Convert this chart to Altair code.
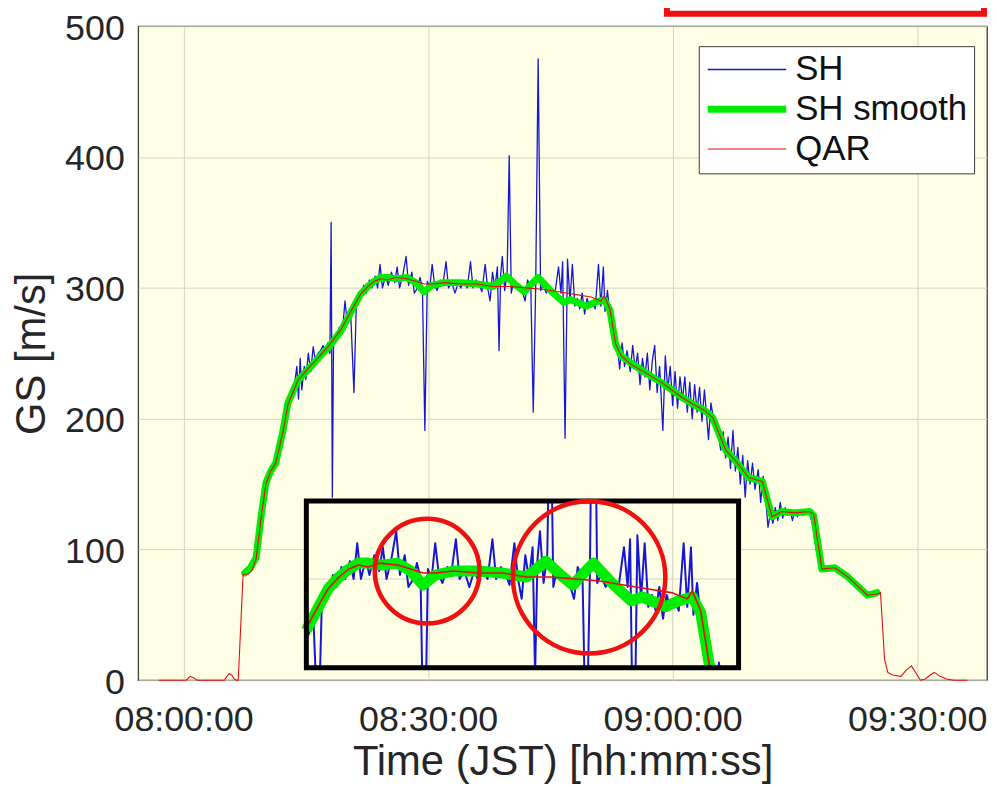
import altair as alt
import pandas as pd

# ---------------- data (minutes after 08:00:00 JST, ground speed m/s) ----------------
SERIES = ["SH", "SH smooth", "QAR"]
SERIES_COLORS = ["#1616d4", "#00ec00", "#e01010"]
SERIES_WIDTHS = [1.3, 7.0, 1.1]
INSET_WIDTHS = [2.0, 11.0, 1.6]

SH = [(7.6, 84), (8.2, 88), (8.9, 95), (9.3, 110), (9.6, 127), (10.1, 150), (10.6, 160), (11.3, 167),
      (11.8, 178), (12.2, 191), (12.8, 212), (13.2, 220), (13.6, 226), (13.9, 240), (14.1, 215),
      (14.3, 246), (14.5, 222), (14.8, 240), (15.0, 230), (15.3, 250), (15.6, 236), (15.9, 255),
      (16.2, 243), (16.5, 250), (16.8, 252), (17.1, 256), (17.4, 252), (17.7, 258), (17.95, 250),
      (18.1, 350), (18.25, 140), (18.4, 262), (18.8, 262), (19.1, 270), (19.5, 268), (19.8, 290),
      (20.1, 272), (20.5, 280), (20.9, 220), (21.2, 290), (21.5, 296), (21.8, 294), (22.1, 302),
      (22.4, 296), (22.8, 306), (23.1, 300), (23.5, 309), (23.8, 300), (24.1, 318), (24.4, 300),
      (24.8, 310), (25.1, 302), (25.5, 312), (25.9, 304), (26.2, 316), (26.5, 300), (26.9, 310),
      (27.3, 324), (27.6, 302), (28.0, 312), (28.3, 296), (28.7, 300), (29.0, 308), (29.3, 300),
      (29.6, 191), (29.9, 305), (30.2, 300), (30.5, 318), (30.8, 302), (31.1, 298), (31.5, 306),
      (31.8, 302), (32.2, 320), (32.5, 300), (32.9, 304), (33.3, 296), (33.7, 304), (34.0, 300),
      (34.4, 305), (34.8, 300), (35.2, 320), (35.5, 300), (35.9, 306), (36.3, 302), (36.6, 297),
      (37.0, 318), (37.3, 300), (37.6, 290), (37.9, 312), (38.2, 300), (38.5, 316), (38.7, 252),
      (38.9, 310), (39.1, 324), (39.4, 298), (39.7, 312), (39.95, 401), (40.2, 296), (40.5, 305),
      (40.8, 300), (41.1, 302), (41.5, 298), (41.9, 290), (42.2, 306), (42.6, 300), (42.9, 205),
      (43.2, 302), (43.5, 475), (43.8, 298), (44.1, 302), (44.5, 296), (44.8, 300), (45.2, 295),
      (45.6, 298), (46.0, 316), (46.3, 296), (46.5, 320), (46.8, 185), (47.1, 322), (47.4, 290),
      (47.7, 318), (48.0, 286), (48.3, 292), (48.6, 284), (48.9, 296), (49.2, 280), (49.5, 292),
      (49.8, 286), (50.1, 290), (50.5, 284), (50.9, 318), (51.2, 286), (51.5, 316), (51.7, 282),
      (52.0, 298), (52.3, 280), (52.7, 268), (53.0, 260), (53.3, 250), (53.5, 238), (53.8, 258),
      (54.1, 240), (54.4, 252), (54.8, 236), (55.1, 256), (55.4, 238), (55.7, 250), (56.0, 226),
      (56.3, 246), (56.6, 232), (56.9, 250), (57.2, 222), (57.5, 244), (57.8, 256), (58.1, 220),
      (58.4, 240), (58.8, 191), (59.1, 248), (59.4, 222), (59.7, 240), (60.0, 210), (60.3, 236),
      (60.6, 208), (60.9, 232), (61.2, 214), (61.5, 232), (61.8, 205), (62.1, 228), (62.4, 200),
      (62.7, 226), (63.0, 205), (63.3, 224), (63.6, 198), (63.9, 222), (64.2, 200), (64.4, 184),
      (64.7, 212), (65.0, 200), (65.3, 192), (65.6, 188), (65.9, 176), (66.2, 190), (66.5, 170),
      (66.8, 186), (67.1, 162), (67.4, 191), (67.7, 160), (68.0, 178), (68.3, 150), (68.6, 172),
      (68.9, 140), (69.2, 168), (69.5, 150), (69.8, 166), (70.1, 146), (70.5, 161), (70.8, 136),
      (71.1, 156), (71.4, 140), (71.7, 117), (72.0, 128), (72.3, 120), (72.6, 132), (72.9, 122),
      (73.2, 136), (73.5, 124), (73.8, 132), (74.1, 126), (74.4, 130), (74.7, 122), (75.0, 130),
      (75.3, 125), (75.6, 130), (76.0, 126), (76.4, 130), (76.8, 128), (77.2, 118), (77.6, 100),
      (78.0, 90), (78.3, 84), (78.7, 86), (79.2, 85), (79.9, 86), (80.5, 84), (81.0, 82), (81.5, 79),
      (82.2, 75), (83.0, 70), (83.9, 65), (84.5, 66), (85.1, 67)]

SH_SMOOTH = [(7.5, 82), (8.2, 86), (8.9, 94), (9.5, 125), (10.1, 151), (10.7, 160), (11.3, 166),
             (12.2, 191), (12.8, 212), (14.0, 229), (15.5, 239), (16.6, 247), (17.7, 254), (19.3, 267),
             (20.5, 281), (21.7, 295), (22.6, 301), (23.4, 305), (24.2, 308), (25.0, 308), (26.2, 307),
             (27.4, 308), (28.5, 304), (29.5, 297), (30.5, 302), (32.0, 304), (34.0, 304), (36.0, 303),
             (38.0, 301), (39.6, 309), (40.8, 302), (41.8, 297), (42.7, 303), (43.5, 308), (45.0, 298),
             (46.6, 289), (47.5, 291), (49.4, 286), (50.5, 289), (51.6, 291), (52.3, 283), (53.0, 257),
             (53.7, 248), (55.0, 242), (56.7, 235), (58.8, 227), (61.2, 216), (62.5, 211), (64.0, 206),
             (64.9, 201), (66.5, 176), (67.7, 168), (69.3, 155), (71.0, 152), (72.2, 125), (73.4, 129),
             (75.0, 128), (76.8, 129), (77.3, 126), (78.3, 85), (79.9, 86), (81.5, 79), (83.9, 65),
             (85.1, 67)]

QAR = [(-3.0, 0), (0.3, 0), (0.8, 3), (1.2, 2), (1.7, 0), (2.2, 0), (5.0, 0), (5.3, 3), (5.6, 5),
       (5.9, 4), (6.2, 1), (6.5, 0), (6.7, 0), (7.3, 81), (7.9, 81), (8.4, 84), (8.9, 93), (9.5, 124),
       (10.1, 150), (10.7, 160), (11.3, 166), (12.2, 190), (12.8, 211), (14.0, 229), (15.5, 240),
       (16.6, 247), (17.7, 255), (19.3, 268), (20.5, 282), (21.7, 295), (22.6, 301), (23.4, 305),
       (24.2, 307), (25.0, 306), (26.0, 308), (27.4, 307), (28.5, 305), (29.5, 303), (30.5, 303),
       (32.0, 304), (34.0, 303), (36.0, 303), (38.0, 301), (40.0, 301), (42.0, 300), (44.0, 299),
       (46.0, 297), (48.0, 295), (50.0, 293), (51.2, 290), (51.6, 294), (52.3, 284), (53.0, 257),
       (53.7, 248), (55.0, 241), (56.7, 235), (58.8, 227), (61.2, 216), (62.5, 211), (64.0, 206),
       (64.9, 201), (66.5, 176), (67.7, 168), (69.3, 155), (71.0, 152), (72.2, 125), (73.4, 129),
       (75.0, 128), (76.8, 129), (77.3, 127), (78.3, 85), (79.9, 86), (81.5, 79), (83.9, 65),
       (85.1, 66), (85.5, 67), (86.0, 16), (86.4, 6), (87.0, 4), (88.0, 3), (88.7, 8), (89.3, 11),
       (89.9, 5), (90.4, 0), (91.0, 1), (91.6, 4), (92.1, 6), (92.8, 3), (93.6, 1), (94.5, 0), (96.1, 0)]

X_DOMAIN = [-5.57, 98.57]
Y_DOMAIN = [0, 500]
X_TICKS = [0, 30, 60, 90]
X_TICK_LABELS = ["08:00:00", "08:30:00", "09:00:00", "09:30:00"]
Y_TICKS = [0, 100, 200, 300, 400, 500]

# inset (zoom of the cruise phase) : source window -> placement inside the main axes
INSET_SRC_T = [19.92, 55.41]
INSET_SRC_V = [255.4, 339.2]
INSET_DST_T = [15.06, 68.09]
INSET_DST_V = [9.65, 137.0]
INSET_GRID_T = [30, 50]
INSET_GRID_V = [300]
CIRCLES = [(29.84, 304.0), (43.14, 300.85)]
CIRCLE_SIZES = [11100, 23500]
TOP_BOX_T = [59.3, 98.2]
TOP_BOX_V = [509.5, 545.0]

FONT = "Liberation Sans"
BG = "#FFFFE5"
GRID = "#d5d5c3"


def map_t(t):
    return INSET_DST_T[0] + (t - INSET_SRC_T[0]) * (INSET_DST_T[1] - INSET_DST_T[0]) / (INSET_SRC_T[1] - INSET_SRC_T[0])


def map_v(v):
    return INSET_DST_V[0] + (v - INSET_SRC_V[0]) * (INSET_DST_V[1] - INSET_DST_V[0]) / (INSET_SRC_V[1] - INSET_SRC_V[0])


def clip_segment(a, b):
    """Liang-Barsky clipping of segment a-b to the inset source window."""
    (x0, y0), (x1, y1) = a, b
    xmin, xmax = INSET_SRC_T
    ymin, ymax = INSET_SRC_V
    u0, u1 = 0.0, 1.0
    dx, dy = x1 - x0, y1 - y0
    for p, q in ((-dx, x0 - xmin), (dx, xmax - x0), (-dy, y0 - ymin), (dy, ymax - y0)):
        if p == 0:
            if q < 0:
                return None
        else:
            r = q / p
            if p < 0:
                if r > u1:
                    return None
                u0 = max(u0, r)
            else:
                if r < u0:
                    return None
                u1 = min(u1, r)
    return (x0 + u0 * dx, y0 + u0 * dy), (x0 + u1 * dx, y0 + u1 * dy)


def clip_polyline(points):
    runs, cur = [], []
    for a, b in zip(points, points[1:]):
        seg = clip_segment(a, b)
        if seg is None:
            if cur:
                runs.append(cur)
                cur = []
            continue
        s, e = seg
        if cur and (abs(cur[-1][0] - s[0]) > 1e-9 or abs(cur[-1][1] - s[1]) > 1e-9):
            runs.append(cur)
            cur = []
        if not cur:
            cur = [s]
        cur.append(e)
    if cur:
        runs.append(cur)
    return runs


def series_df(points, name):
    return pd.DataFrame({"t": [p[0] for p in points], "v": [p[1] for p in points], "series": name})


def inset_df(points):
    rows = []
    for k, run in enumerate(clip_polyline(points)):
        for i, (t, v) in enumerate(run):
            rows.append({"t": map_t(t), "v": map_v(v), "seg": k, "i": i})
    return pd.DataFrame(rows)


label_expr = " : ".join(
    f"datum.value == {v} ? '{lab}'" for v, lab in zip(X_TICKS, X_TICK_LABELS)
) + " : ''"

x_enc = alt.X(
    "t:Q",
    scale=alt.Scale(domain=X_DOMAIN, nice=False, zero=False),
    axis=alt.Axis(values=X_TICKS, labelExpr=label_expr, labelPadding=23,
                  titleBaseline="alphabetic", titleY=94.5),
    title="Time (JST) [hh:mm:ss]",
)
y_enc = alt.Y(
    "v:Q",
    scale=alt.Scale(domain=Y_DOMAIN, nice=False, zero=False),
    axis=alt.Axis(values=Y_TICKS, labelPadding=14, labelOffset=2, titleX=-107, titleY=329,
                  titleAngle=270, titleBaseline="middle", titleAlign="center"),
    title="GS [m/s]",
)

legend = alt.Legend(
    title=None, orient="none", legendX=564, legendY=20, direction="vertical",
    fillColor="white", strokeColor="#3a3a3a", padding=6,
    labelFontSize=35, labelFont=FONT, labelColor="#111111", labelLimit=400,
    symbolType="M-2.82,0H2.82", symbolSize=784, symbolOffset=25, labelOffset=31,
    rowPadding=4,
)
color_enc = alt.Color("series:N", scale=alt.Scale(domain=SERIES, range=SERIES_COLORS), legend=legend)
width_enc = alt.StrokeWidth("series:N", scale=alt.Scale(domain=SERIES, range=SERIES_WIDTHS, type="ordinal"),
                            legend=legend)

layers = []
for pts, name in [(SH, "SH"), (SH_SMOOTH, "SH smooth"), (QAR, "QAR")]:
    layers.append(
        alt.Chart(series_df(pts, name)).mark_line(strokeCap="round", strokeJoin="round")
        .encode(x=x_enc, y=y_enc, color=color_enc, strokeWidth=width_enc)
    )

# inset background
box_df = pd.DataFrame({"t": [INSET_DST_T[0]], "t2": [INSET_DST_T[1]], "v": [INSET_DST_V[0]], "v2": [INSET_DST_V[1]]})
layers.append(alt.Chart(box_df).mark_rect(fill=BG, strokeWidth=0).encode(x=x_enc, x2="t2:Q", y=y_enc, y2="v2:Q"))

# inset grid
gv_df = pd.DataFrame({"t": [map_t(g) for g in INSET_GRID_T], "v": INSET_DST_V[0], "v2": INSET_DST_V[1]})
layers.append(alt.Chart(gv_df).mark_rule(color=GRID, strokeWidth=1.2).encode(x=x_enc, y=y_enc, y2="v2:Q"))
gh_df = pd.DataFrame({"v": [map_v(g) for g in INSET_GRID_V], "t": INSET_DST_T[0], "t2": INSET_DST_T[1]})
layers.append(alt.Chart(gh_df).mark_rule(color=GRID, strokeWidth=1.2).encode(x=x_enc, x2="t2:Q", y=y_enc))

# inset lines (clipped to the zoom window)
for pts, col, w in zip([SH, SH_SMOOTH, QAR], SERIES_COLORS, INSET_WIDTHS):
    layers.append(
        alt.Chart(inset_df(pts)).mark_line(color=col, strokeWidth=w, strokeCap="butt", strokeJoin="round")
        .encode(x=x_enc, y=y_enc, detail="seg:N", order="i:Q")
    )

# inset border
layers.append(alt.Chart(box_df).mark_rect(fillOpacity=0, stroke="black", strokeWidth=5)
              .encode(x=x_enc, x2="t2:Q", y=y_enc, y2="v2:Q"))

# red circles
for (ct, cv), sz in zip(CIRCLES, CIRCLE_SIZES):
    cdf = pd.DataFrame({"t": [map_t(ct)], "v": [map_v(cv)]})
    layers.append(alt.Chart(cdf).mark_point(shape="circle", filled=False, size=sz, strokeWidth=4.6,
                                            color="#ee1111", opacity=1).encode(x=x_enc, y=y_enc))

# red frame at the top (partly outside)
top_df = pd.DataFrame({"t": [TOP_BOX_T[0]], "t2": [TOP_BOX_T[1]], "v": [TOP_BOX_V[0]], "v2": [TOP_BOX_V[1]]})
layers.append(alt.Chart(top_df).mark_rect(fillOpacity=0, stroke="#ee1111", strokeWidth=6, clip=False)
              .encode(x=x_enc, x2="t2:Q", y=y_enc, y2="v2:Q"))

chart = (
    alt.layer(*layers)
    .properties(width=854, height=658,
                autosize=alt.AutoSizeParams(type="none"),
                padding={"left": 131, "top": 16, "right": 2, "bottom": 104},
                background="white")
    .configure_view(fill=BG, stroke="#3c3c3c", strokeWidth=1.3)
    .configure_axis(grid=True, gridColor=GRID, gridWidth=1, domain=False, ticks=False, tickSize=0,
                    labelFont=FONT, labelFontSize=36, labelColor="#262626",
                    titleFont=FONT, titleFontSize=42, titleFontWeight="normal", titleColor="#262626",
                    labelOverlap=False, labelFlush=False)
)

chart.save("out.html", embed_options={"renderer": "svg", "actions": False})
